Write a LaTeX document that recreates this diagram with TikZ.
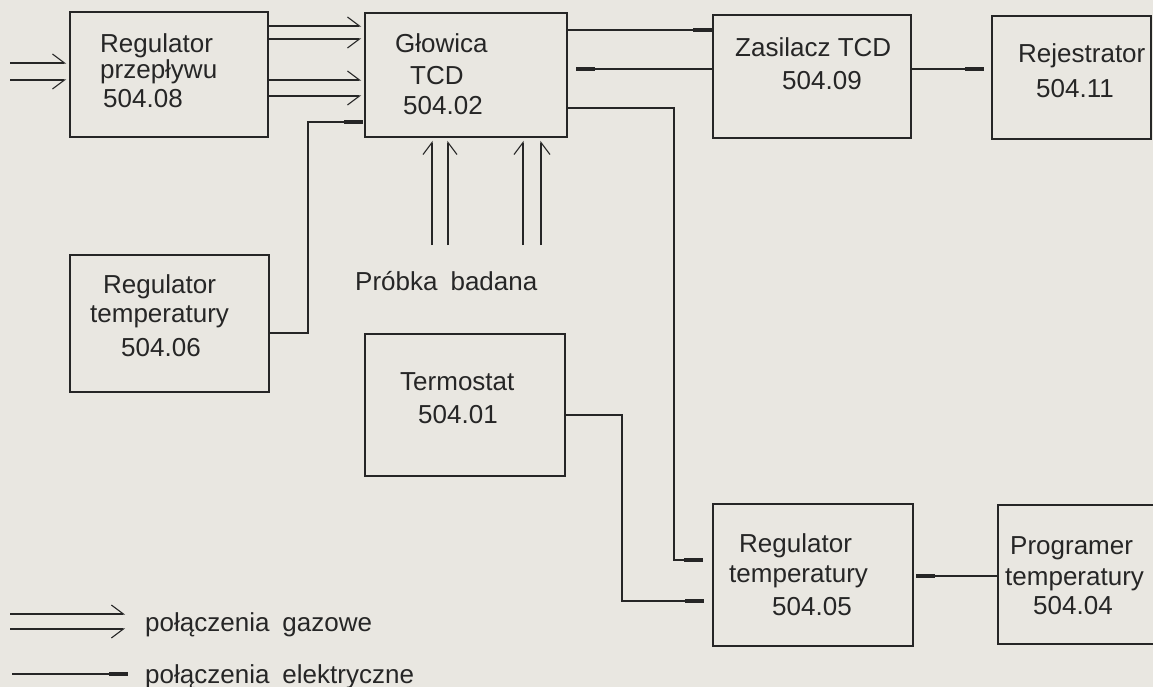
\documentclass[tikz,border=0pt]{standalone}
\usepackage{fontspec}
\setmainfont{Liberation Sans}
\usetikzlibrary{arrows.meta}
\definecolor{paper}{RGB}{233,231,225}
\definecolor{ink}{RGB}{38,38,38}
\begin{document}
\begin{tikzpicture}[x=1pt,y=-1pt,
  box/.style={draw=ink, line width=1.8pt, inner sep=0pt},
  txt/.style={anchor=base west, inner sep=0pt, text=ink, font=\fontsize{26pt}{30pt}\selectfont},
  wire/.style={draw=ink, line width=1.1pt},
  gasL/.style={wire, -{Straight Barb[harpoon, length=12pt, width=18pt]}, shorten >=3pt},
  gasR/.style={wire, -{Straight Barb[harpoon, swap, length=12pt, width=18pt]}, shorten >=3pt},
  elec/.style={wire, -{Rectangle[length=19pt, width=3.6pt]}}]
\fill[paper] (0,0) rectangle (1153,687);
\useasboundingbox (0,0) rectangle (1153,687);

% boxes
\node[box, minimum width=198pt, minimum height=125pt] (rp) at (169,74.5) {};
\node[box, minimum width=202pt, minimum height=124pt] (gl) at (466,75) {};
\node[box, minimum width=198pt, minimum height=123pt] (zs) at (812,76.5) {};
\node[box, minimum width=159pt, minimum height=123pt] (rj) at (1071.5,77.5) {};
\node[box, minimum width=199pt, minimum height=137pt] (rt6) at (169.5,323.5) {};
\node[box, minimum width=200pt, minimum height=142pt] (tm) at (465,405) {};
\node[box, minimum width=200pt, minimum height=142pt] (rt5) at (813,575) {};
\node[box, minimum width=170pt, minimum height=139pt] (pg) at (1083,574.5) {};

% texts
\node[txt] (rpa) at (100,53) {Regulator};
\node[txt] (rpb) at (100,79) {przepływu};
\node[txt] (rpc) at (103,108) {504.08};
\node[txt] (gla) at (395,53) {Głowica};
\node[txt] (glb) at (410,85) {TCD};
\node[txt] (glc) at (403,115) {504.02};
\node[txt] (zsa) at (735,57) {Zasilacz TCD};
\node[txt] (zsb) at (782,90) {504.09};
\node[txt] (rja) at (1018,63) {Rejestrator};
\node[txt] (rjb) at (1036,98) {504.11};
\node[txt] (r6a) at (103,293) {Regulator};
\node[txt] (r6b) at (90,322) {temperatury};
\node[txt] (r6c) at (121,356) {504.06};
\node[txt] (tma) at (400,390) {Termostat};
\node[txt] (tmb) at (418,423) {504.01};
\node[txt] (r5a) at (739,552) {Regulator};
\node[txt] (r5b) at (729,582) {temperatury};
\node[txt] (r5c) at (772,615) {504.05};
\node[txt] (pga) at (1010,554) {Programer};
\node[txt] (pgb) at (1005,585) {temperatury};
\node[txt] (pgc) at (1033,614) {504.04};
\node[txt] (pb) at (355,290) {Próbka\hspace{0.5em}badana};
\node[txt] (lga) at (145,631) {połączenia\hspace{0.5em}gazowe};
\node[txt] (lge) at (145,683) {połączenia\hspace{0.5em}elektryczne};

% gas connections
\coordinate (inA) at (10,63);
\coordinate (inB) at (10,80);
\draw[gasL] (inA) -- (inA -| rp.west);
\draw[gasR] (inB) -- (inB -| rp.west);
\draw[gasL] (rp.east |- 0,26) -- (gl.west |- 0,26);
\draw[gasR] (rp.east |- 0,39) -- (gl.west |- 0,39);
\draw[gasL] (rp.east |- 0,80) -- (gl.west |- 0,80);
\draw[gasR] (rp.east |- 0,96) -- (gl.west |- 0,96);
\coordinate (s1) at (432,245);
\coordinate (s2) at (448,245);
\coordinate (s3) at (523,245);
\coordinate (s4) at (541,245);
\draw[gasL] (s1) -- (s1 |- gl.south);
\draw[gasR] (s2) -- (s2 |- gl.south);
\draw[gasL] (s3) -- (s3 |- gl.south);
\draw[gasR] (s4) -- (s4 |- gl.south);

% electrical connections
\draw[elec, shorten >=1pt] (rt6.east |- 0,333) -| (308,122) -- (gl.west |- 0,122);
\draw[elec] (gl.east |- 0,30) -- (zs.west |- 0,30);
\draw[elec, shorten >=8pt] (zs.west |- 0,69) -- (gl.east |- 0,69);
\draw[elec, shorten >=7pt] (zs.east |- 0,69) -- (rj.west |- 0,69);
\draw[elec, shorten >=9pt] (gl.east |- 0,108) -| (674,560) -- (rt5.west |- 0,560);
\draw[elec, shorten >=8pt] (tm.east |- 0,415) -| (622,601) -- (rt5.west |- 0,601);
\draw[elec, shorten >=2pt] (pg.west |- 0,576) -- (rt5.east |- 0,576);

% legend
\coordinate (lg1) at (10,614);
\coordinate (lg1e) at (125,614);
\coordinate (lg2) at (10,629);
\coordinate (lg2e) at (125,629);
\coordinate (le) at (12,674);
\coordinate (lee) at (128,674);
\draw[gasL, shorten >=0pt] (lg1) -- (lg1e);
\draw[gasR, shorten >=0pt] (lg2) -- (lg2e);
\draw[elec] (le) -- (lee);
\end{tikzpicture}
\end{document}
